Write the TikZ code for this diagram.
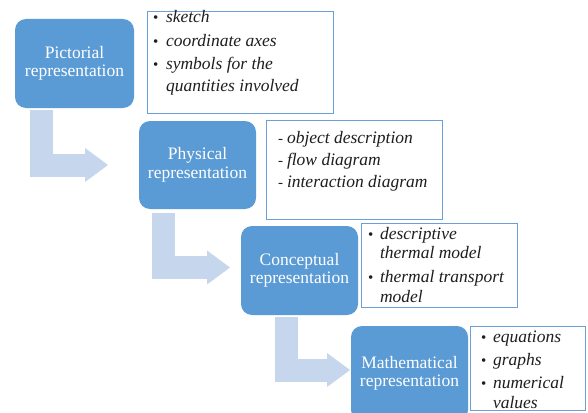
\documentclass[tikz,border=0pt]{standalone}
\usepackage{fontspec}
\setmainfont{Liberation Serif}[ItalicFont={Liberation Serif Italic}, BoldFont={Liberation Serif Bold}]
\usetikzlibrary{arrows.meta}
\definecolor{boxblue}{HTML}{5B9BD5}
\definecolor{arrowblue}{HTML}{C6D6EC}
\definecolor{lineblue}{HTML}{6C9FD6}
\definecolor{txtgray}{HTML}{1E1E1E}
\tikzset{
  bluebox/.style={rectangle, rounded corners=11pt, fill=boxblue, draw=none,
    text=white, align=center, inner sep=0pt, outer sep=0pt, anchor=north west,
    font=\fontsize{17.5}{18.5}\selectfont},
  notebox/.style={rectangle, fill=white, draw=lineblue, line width=1pt,
    inner sep=0pt, outer sep=0pt, anchor=north west},
  itline/.style={anchor=base west, inner sep=0pt, outer sep=0pt, text=txtgray,
    font=\fontsize{17.5}{18}\selectfont\itshape},
  bul/.style={anchor=base west, inner sep=0pt, outer sep=0pt, text=txtgray,
    font=\fontsize{15}{18}\selectfont},
  bentarrow/.style={draw=arrowblue, line width=23pt, line join=miter,
    -{Triangle[length=23pt, width=34pt, line width=0pt]}},
}
\begin{document}
\begin{tikzpicture}[x=1pt, y=-1pt]
\path[use as bounding box, clip] (0,0) rectangle (588,412);
\fill[white] (0,0) rectangle (588,412);

% main boxes
\node[bluebox, minimum width=119pt, minimum height=89pt] (b1) at (15,19) {Pictorial\\representation};
\node[bluebox, minimum width=117pt, minimum height=88pt] (b2) at (139,121) {Physical\\representation};
\node[bluebox, minimum width=117pt, minimum height=89pt] (b3) at (241,226) {Conceptual\\representation};
\node[bluebox, minimum width=117pt, minimum height=95pt] (b4) at (351,326) {Mathematical\\representation};

% bent arrows
\draw[bentarrow] ([xshift=26pt, yshift=-2pt]b1.south west) |- ([xshift=-31pt]b2.west);
\draw[bentarrow] ([xshift=24pt, yshift=-4pt]b2.south west) |- ([xshift=-11pt, yshift=3pt]b3.west);
\draw[bentarrow] ([xshift=45pt, yshift=-2pt]b3.south west) |- ([xshift=-1pt, yshift=3.5pt]b4.west);

% note boxes
\node[notebox, minimum width=186pt, minimum height=101pt] (n1) at (147,12) {};
\node[notebox, minimum width=176pt, minimum height=99pt] (n2) at (266,120) {};
\node[notebox, minimum width=156pt, minimum height=84pt] (n3) at (361,223) {};
\node[notebox, minimum width=115pt, minimum height=84pt] (n4) at (470,326) {};

% note texts box 1
\node[bul] (p1) at (153,23) {•};
\node[itline] (t1) at (166,23) {sketch};
\node[bul] (p2) at (153,47) {•};
\node[itline] (t2) at (166,47) {coordinate axes};
\node[bul] (p3) at (153,69) {•};
\node[itline] (t3) at (166,69) {symbols for the};
\node[itline] (t4) at (166,91) {quantities involved};

% note texts box 2
\node[bul] (d1) at (278,143) {-};
\node[itline] (u1) at (287,143) {object description};
\node[bul] (d2) at (278,165) {-};
\node[itline] (u2) at (287,165) {flow diagram};
\node[bul] (d3) at (278,187) {-};
\node[itline] (u3) at (287,187) {interaction diagram};

% note texts box 3
\node[bul] (q1) at (368,239) {•};
\node[itline] (v1) at (380,239) {descriptive};
\node[itline] (v2) at (380,258) {thermal model};
\node[bul] (q2) at (368,282) {•};
\node[itline] (v3) at (380,282) {thermal transport};
\node[itline] (v4) at (380,302) {model};

% note texts box 4
\node[bul] (r1) at (481,342) {•};
\node[itline] (w1) at (493,342) {equations};
\node[bul] (r2) at (481,365) {•};
\node[itline] (w2) at (493,365) {graphs};
\node[bul] (r3) at (481,388) {•};
\node[itline] (w3) at (493,388) {numerical};
\node[itline] (w4) at (493,408) {values};
\end{tikzpicture}
\end{document}
